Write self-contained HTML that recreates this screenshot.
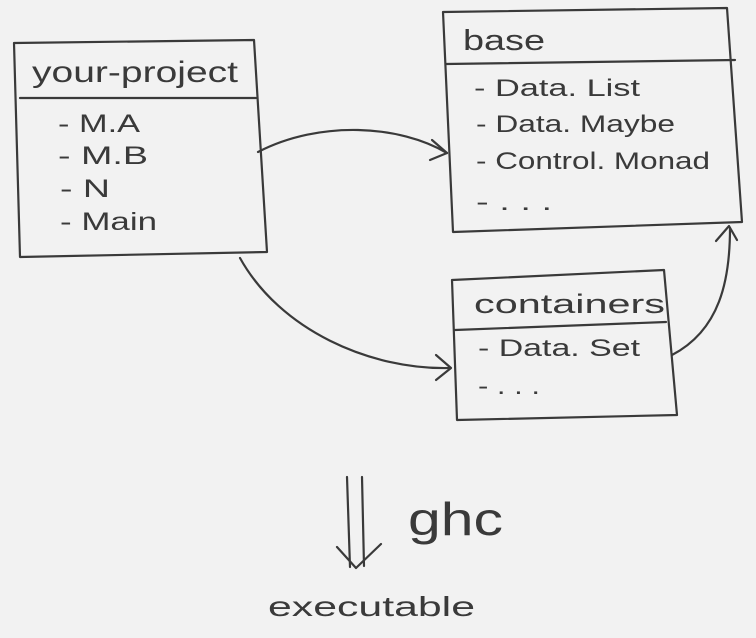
<!DOCTYPE html>
<html><head><style>
html,body{margin:0;padding:0;background:#f2f2f2;}
svg{display:block}
text{font-family:"Liberation Sans",sans-serif;fill:#3a3a3a;}
</style></head><body>
<svg width="756" height="638" viewBox="0 0 756 638" xmlns="http://www.w3.org/2000/svg">
<g fill="none" stroke="#3a3a3a" stroke-width="2.2" stroke-linecap="round" stroke-linejoin="round">
<path d="M14,43 L254,40 L267,252 L20,257 Z"/>
<path d="M20,98 L256,98"/>
<path d="M443,12 L727,8 L742,222 L453,232 Z"/>
<path d="M446,64 L735,60"/>
<path d="M452,280 L664,270 L677,415 L457,420 Z"/>
<path d="M455,330 L666,322"/>
<path d="M258,152 C320,120 400,125 447,153"/>
<path d="M432,140 L447,153 L430,160"/>
<path d="M240,258 C280,330 370,370 450,368"/>
<path d="M436,355 L451,368 L436,380"/>
<path d="M672,355 C720,330 730,280 730,228"/>
<path d="M716,241 L729,226 L737,240"/>
<path d="M347,477 L350,567"/>
<path d="M362,477 L364,566"/>
<path d="M337,547 L356,568 L381,544"/>
</g>
<g font-weight="normal">
<text x="32" y="82" font-size="30" textLength="206" lengthAdjust="spacingAndGlyphs">your-project</text>
<text x="58" y="132" font-size="25" textLength="82" lengthAdjust="spacingAndGlyphs">- M.A</text>
<text x="58" y="164" font-size="25" textLength="90" lengthAdjust="spacingAndGlyphs">- M.B</text>
<text x="60" y="197" font-size="25" textLength="50" lengthAdjust="spacingAndGlyphs">- N</text>
<text x="60" y="230" font-size="25" textLength="97" lengthAdjust="spacingAndGlyphs">- Main</text>
<text x="463" y="50" font-size="29" textLength="82" lengthAdjust="spacingAndGlyphs">base</text>
<text x="474" y="96" font-size="24" textLength="166" lengthAdjust="spacingAndGlyphs">- Data. List</text>
<text x="476" y="132" font-size="24" textLength="199" lengthAdjust="spacingAndGlyphs">- Data. Maybe</text>
<text x="476" y="169" font-size="24" textLength="234" lengthAdjust="spacingAndGlyphs">- Control. Monad</text>
<text x="476" y="210" font-size="24" textLength="76" lengthAdjust="spacingAndGlyphs">- . . .</text>
<text x="474" y="313" font-size="27" textLength="191" lengthAdjust="spacingAndGlyphs">containers</text>
<text x="478" y="356" font-size="24" textLength="162" lengthAdjust="spacingAndGlyphs">- Data. Set</text>
<text x="478" y="394" font-size="24" textLength="62" lengthAdjust="spacingAndGlyphs">- . . .</text>
<text x="408" y="535" font-size="46" textLength="95" lengthAdjust="spacingAndGlyphs">ghc</text>
<text x="268" y="616" font-size="28" textLength="207" lengthAdjust="spacingAndGlyphs">executable</text>
</g>
</svg>
</body></html>
